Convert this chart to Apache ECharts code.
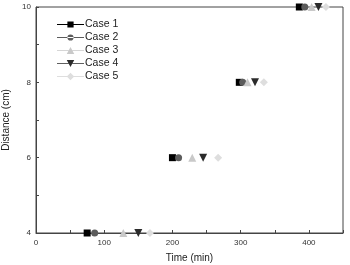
<!DOCTYPE html>
<html>
<head>
<meta charset="utf-8">
<script src="https://cdn.jsdelivr.net/npm/echarts@6/dist/echarts.min.js"></script>
<style>
  html, body { margin: 0; padding: 0; background: #fff; }
  #chart { width: 350px; height: 265px; }
</style>
</head>
<body>
<div id="chart"></div>
<script>
// 数据
var caseNames = ['Case 1', 'Case 2', 'Case 3', 'Case 4', 'Case 5'];
var distances = [4, 6, 8, 10];
var case1Times = [75, 200, 298, 386];
var case2Times = [86, 209, 303, 394];
var case3Times = [128, 229, 310, 404];
var case4Times = [150, 245, 321, 414];
var case5Times = [167, 267, 334, 425];
var xTicks = [0, 100, 200, 300, 400];
var yTicks = [4, 6, 8, 10];

var allTimes = [case1Times, case2Times, case3Times, case4Times, case5Times];
var colors = ['#000000', '#5c5c5c', '#c9c9c9', '#2b2b2b', '#dedede'];
var symbols = ['rect', 'circle', 'triangle', 'path://M0,0L10,0L5,9z', 'diamond'];
var sizes = [7, 7, 8, 8, 8];

// 图例图标: 线 + 符号
var line = 'M0,3.6h26v0.8h-26z ';
var legendIcons = [
  'path://' + line + 'M10,1h6v6h-6z',
  'path://' + line + 'M10,4a3,3 0 1,0 6,0a3,3 0 1,0 -6,0z',
  'path://' + line + 'M13,0.6L16.6,7.2H9.4z',
  'path://' + line + 'M9.4,0.8H16.6L13,7.4z',
  'path://' + line + 'M13,0.3L16.6,4L13,7.7L9.4,4z'
];

var chart = echarts.init(document.getElementById('chart'));

var series = caseNames.map(function (name, i) {
  return {
    name: name,
    type: 'scatter',
    symbol: symbols[i],
    symbolSize: sizes[i],
    clip: true,
    itemStyle: { color: colors[i], opacity: 1 },
    data: allTimes[i].map(function (t, k) { return [t, distances[k]]; })
  };
});

chart.setOption({
  animation: false,
  textStyle: { fontFamily: 'Liberation Sans, Arial, sans-serif' },
  grid: {
    left: 36, top: 7, right: 7, bottom: 32,
    containLabel: false,
    outerBoundsMode: 'none',
    show: true, borderColor: '#444', borderWidth: 1, backgroundColor: 'transparent'
  },
  legend: {
    orient: 'vertical',
    left: 52, top: 14,
    itemWidth: 27, itemHeight: 8, itemGap: 2,
    textStyle: { fontSize: 10.5, color: '#222', padding: [0, 0, 0, -4] },
    data: caseNames.map(function (n, i) {
      return { name: n, icon: legendIcons[i], itemStyle: { color: colors[i] } };
    })
  },
  xAxis: {
    type: 'value',
    min: 0, max: 450, interval: 50,
    name: 'Time (min)',
    nameLocation: 'middle',
    nameGap: 20,
    nameTextStyle: { fontSize: 10, color: '#222' },
    axisLine: { show: true, lineStyle: { color: '#444', width: 1 } },
    axisTick: { show: true, inside: true, length: 3, lineStyle: { color: '#444' } },
    axisLabel: {
      fontSize: 8, color: '#333', margin: 6,
      formatter: function (v) { return xTicks.indexOf(v) >= 0 ? String(v) : ''; }
    },
    splitLine: { show: false }
  },
  yAxis: {
    type: 'value',
    min: 4, max: 10, interval: 1,
    name: 'Distance (cm)',
    nameLocation: 'middle',
    nameGap: 22,
    nameTextStyle: { fontSize: 10, color: '#222' },
    axisLine: { show: true, lineStyle: { color: '#444', width: 1 } },
    axisTick: { show: true, inside: true, length: 3, lineStyle: { color: '#444' } },
    axisLabel: {
      fontSize: 8, color: '#333', margin: 5,
      formatter: function (v) { return yTicks.indexOf(v) >= 0 ? String(v) : ''; }
    },
    splitLine: { show: false }
  },
  series: series
});
</script>
</body>
</html>
